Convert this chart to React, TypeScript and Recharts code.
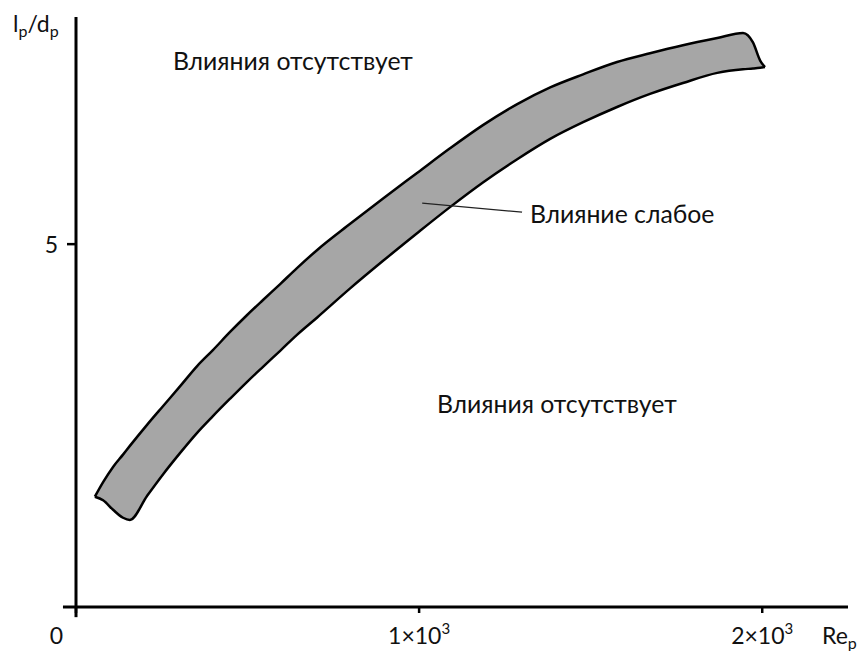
import React from 'react';
import { ComposedChart, Area, XAxis, YAxis, ReferenceLine, ReferenceDot } from 'recharts';

// Re_p sample points along the band
const RE = [55, 79, 108, 137, 157, 207, 254, 303, 353, 399, 449, 498, 545, 595, 644, 703, 799, 895, 994, 1090, 1186, 1286, 1382, 1478, 1577, 1673, 1769, 1869, 1944, 1973, 1994, 2008];
// upper / lower edges of the "weak influence" band, lp/dp
const UPPER = [1.52, 1.72, 1.93, 2.1, 2.22, 2.51, 2.77, 3.04, 3.32, 3.54, 3.79, 4.02, 4.23, 4.45, 4.67, 4.92, 5.28, 5.63, 5.98, 6.32, 6.64, 6.93, 7.16, 7.34, 7.51, 7.63, 7.74, 7.84, 7.91, 7.78, 7.53, 7.44];
const LOWER = [1.52, 1.47, 1.34, 1.23, 1.2, 1.53, 1.83, 2.12, 2.4, 2.63, 2.87, 3.1, 3.31, 3.53, 3.75, 3.99, 4.39, 4.77, 5.15, 5.51, 5.85, 6.17, 6.45, 6.68, 6.89, 7.07, 7.22, 7.36, 7.41, 7.42, 7.43, 7.44];

const X_TICKS = [0, 1000, 2000];
const Y_TICKS = [5];

const NO_INFLUENCE = 'Влияния отсутствует';
const WEAK = 'Влияние слабое';

const FONT = "Lato, 'Open Sans', sans-serif";
const FS = 23;
const NOTE_FS = 24.8;

const data = RE.map((re, i) => ({ re, band: [LOWER[i], UPPER[i]] }));

const XTick = (props: any) => {
  const { x, y, payload } = props;
  const v = payload.value;
  if (v === 0) {
    return (
      <text x={x - 13} y={y + 29} textAnchor="end" fontFamily={FONT} fontSize={FS} fill="#111">0</text>
    );
  }
  return (
    <text x={x} y={y + 29} textAnchor="middle" fontFamily={FONT} fontSize={FS} fill="#111">
      {v / 1000}×10<tspan dy={-10} fontSize={15}>3</tspan>
    </text>
  );
};

const YTick = (props: any) => {
  const { x, y, payload } = props;
  return (
    <text x={x - 7} y={y + 9} textAnchor="end" fontFamily={FONT} fontSize={FS} fill="#111">{payload.value}</text>
  );
};

const note = (text: string) => (props: any) => {
  const vb = props.viewBox || {};
  return (
    <text x={vb.x} y={vb.y + 8} fontFamily={FONT} fontSize={NOTE_FS} fill="#111">{text}</text>
  );
};

export default function App() {
  return (
    <div style={{ width: 858, height: 643 }}>
      <ComposedChart width={858} height={643} data={data} margin={{ top: 9, right: 18, left: 0, bottom: 0 }}>
        <XAxis
          dataKey="re"
          type="number"
          domain={[0, 2250]}
          ticks={X_TICKS}
          allowDataOverflow
          height={44}
          axisLine={{ stroke: '#000', strokeWidth: 3 }}
          tickLine={{ stroke: '#000', strokeWidth: 2.5 }}
          tickSize={6}
          tick={<XTick />}
          label={{
            content: () => (
              <text x={814} y={636} fontFamily={FONT} fontSize={FS} fill="#111">
                Re<tspan dy={5} fontSize={16}>p</tspan>
              </text>
            ),
          }}
        />
        <YAxis
          type="number"
          domain={[0, 8.13]}
          ticks={Y_TICKS}
          allowDataOverflow
          width={68}
          axisLine={{ stroke: '#000', strokeWidth: 3 }}
          tickLine={{ stroke: '#000', strokeWidth: 2.5 }}
          tickSize={9}
          tick={<YTick />}
          label={{
            content: () => (
              <text x={5} y={24} fontFamily={FONT} fontSize={FS} fill="#111">
                l<tspan dy={5} fontSize={16}>p</tspan><tspan dy={-5}>/d</tspan><tspan dy={5} fontSize={16}>p</tspan>
              </text>
            ),
          }}
        />
        <ReferenceLine segment={[{ x: -38, y: 0 }, { x: 0, y: 0 }]} stroke="#000" strokeWidth={3} ifOverflow="visible" />
        <ReferenceLine segment={[{ x: 0, y: 0 }, { x: 0, y: -0.14 }]} stroke="#000" strokeWidth={3} ifOverflow="visible" />
        <Area
          type="monotone"
          dataKey="band"
          fill="#a6a6a6"
          fillOpacity={1}
          stroke="#000"
          strokeWidth={2.5}
          dot={false}
          activeDot={false}
          isAnimationActive={false}
        />
        <ReferenceLine segment={[{ x: 1009, y: 5.565 }, { x: 1300, y: 5.44 }]} stroke="#222" strokeWidth={1.2} />
        <ReferenceDot x={283} y={7.51} r={0} fill="none" stroke="none" label={{ content: note(NO_INFLUENCE) }} />
        <ReferenceDot x={1323} y={5.4} r={0} fill="none" stroke="none" label={{ content: note(WEAK) }} />
        <ReferenceDot x={1052} y={2.78} r={0} fill="none" stroke="none" label={{ content: note(NO_INFLUENCE) }} />
      </ComposedChart>
    </div>
  );
}
